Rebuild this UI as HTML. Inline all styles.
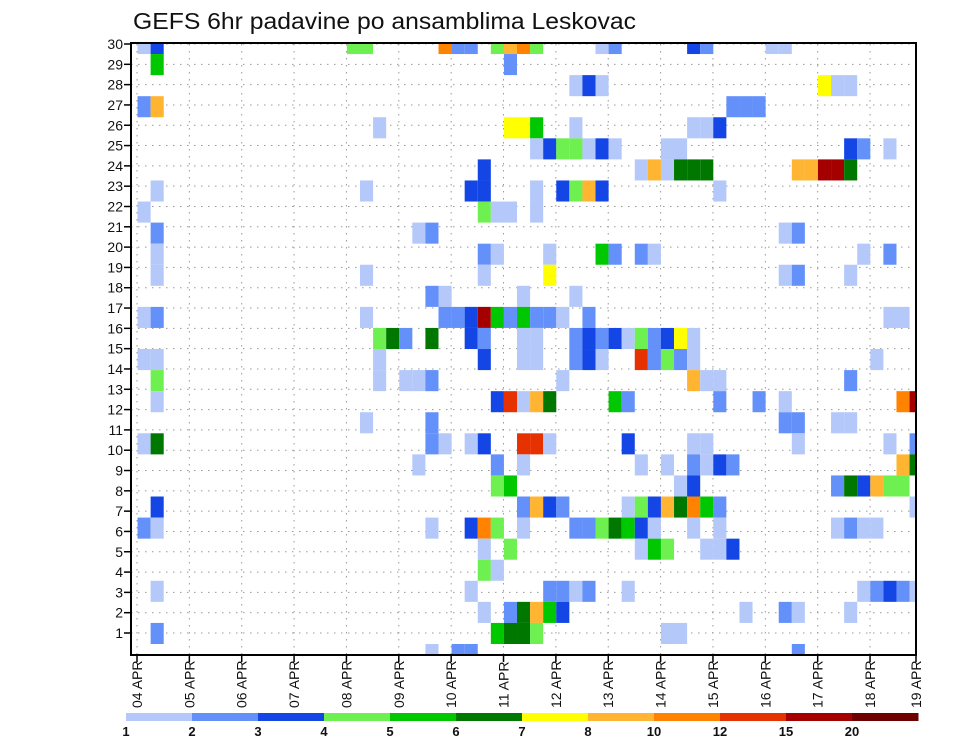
<!DOCTYPE html>
<html><head><meta charset="utf-8"><title>GEFS 6hr padavine po ansamblima Leskovac</title>
<style>
html,body{margin:0;padding:0;background:#fff;}
svg{display:block;font-family:"Liberation Sans",sans-serif;}
</style></head>
<body>
<svg id="chart" width="960" height="742" viewBox="0 0 960 742" xmlns="http://www.w3.org/2000/svg">
<defs><clipPath id="plotclip"><rect x="131" y="44" width="785" height="611"/></clipPath></defs>
<text x="133" y="29" font-size="23" textLength="503" lengthAdjust="spacingAndGlyphs" fill="#111">GEFS 6hr padavine po ansamblima Leskovac</text>
<g id="grid"></g>
<g id="cells" clip-path="url(#plotclip)"></g>
<rect x="131" y="43" width="785" height="612" fill="none" stroke="#000" stroke-width="2"/>
<g id="yaxis"></g>
<g id="xaxis"></g>
<g id="colorbar"></g>
</svg>
<script>
// ---- data ----
const levelColors = ["#b4c8fa","#6490fa","#1446e6","#6ef050","#00c800","#007800","#ffff00","#ffb432","#ff8200","#e63200","#a50000","#6e0000"];
const levelLabels = ["1","2","3","4","5","6","7","8","10","12","15","20"];
const memberLabels = [1,2,3,4,5,6,7,8,9,10,11,12,13,14,15,16,17,18,19,20,21,22,23,24,25,26,27,28,29,30];
const dayLabels = ["04 APR","05 APR","06 APR","07 APR","08 APR","09 APR","10 APR","11 APR","12 APR","13 APR","14 APR","15 APR","16 APR","17 APR","18 APR","19 APR"];
// cells: [row, 6h step, level index 1..12]
const cells = [
[29,1,1],[29,2,3],[29,17,4],[29,18,4],[29,24,9],[29,25,2],[29,26,2],[29,28,4],[29,29,8],[29,30,9],[29,31,4],[29,36,1],[29,37,2],[29,43,3],[29,44,2],[29,49,1],[29,50,1],
[28,2,5],[28,29,2],
[27,34,1],[27,35,3],[27,36,1],[27,53,7],[27,54,1],[27,55,1],
[26,1,2],[26,2,8],[26,46,2],[26,47,2],[26,48,2],
[25,19,1],[25,29,7],[25,30,7],[25,31,5],[25,34,1],[25,43,1],[25,44,1],[25,45,3],
[24,31,1],[24,32,3],[24,33,4],[24,34,4],[24,35,1],[24,36,3],[24,37,1],[24,41,1],[24,42,1],[24,55,3],[24,56,2],[24,58,1],
[23,27,3],[23,39,1],[23,40,8],[23,41,1],[23,42,6],[23,43,6],[23,44,6],[23,51,8],[23,52,8],[23,53,11],[23,54,11],[23,55,6],
[22,2,1],[22,18,1],[22,26,3],[22,27,3],[22,31,1],[22,33,3],[22,34,4],[22,35,8],[22,36,3],[22,45,1],
[21,1,1],[21,27,4],[21,28,1],[21,29,1],[21,31,1],
[20,2,2],[20,22,1],[20,23,2],[20,50,1],[20,51,2],
[19,2,1],[19,27,2],[19,28,1],[19,32,1],[19,36,5],[19,37,2],[19,39,2],[19,40,1],[19,56,1],[19,58,2],
[18,2,1],[18,18,1],[18,27,1],[18,32,7],[18,50,1],[18,51,2],[18,55,1],
[17,23,2],[17,24,1],[17,30,1],[17,34,1],
[16,1,1],[16,2,2],[16,18,1],[16,24,2],[16,25,2],[16,26,3],[16,27,11],[16,28,5],[16,29,2],[16,30,5],[16,31,2],[16,32,2],[16,33,1],[16,35,2],[16,58,1],[16,59,1],
[15,19,4],[15,20,6],[15,21,2],[15,23,6],[15,26,3],[15,27,2],[15,30,1],[15,31,1],[15,34,2],[15,35,3],[15,36,2],[15,37,3],[15,38,1],[15,39,4],[15,40,2],[15,41,3],[15,42,7],[15,43,1],
[14,1,1],[14,2,1],[14,19,1],[14,27,3],[14,30,1],[14,31,1],[14,34,2],[14,35,3],[14,36,1],[14,39,10],[14,40,2],[14,41,4],[14,42,2],[14,43,1],[14,57,1],
[13,2,4],[13,19,1],[13,21,1],[13,22,1],[13,23,2],[13,33,1],[13,43,8],[13,44,1],[13,45,1],[13,55,2],
[12,2,1],[12,28,3],[12,29,10],[12,30,1],[12,31,8],[12,32,6],[12,37,5],[12,38,2],[12,45,2],[12,48,2],[12,50,1],[12,59,9],[12,60,11],
[11,18,1],[11,23,2],[11,50,2],[11,51,2],[11,54,1],[11,55,1],
[10,1,1],[10,2,6],[10,23,2],[10,24,1],[10,26,1],[10,27,3],[10,30,10],[10,31,10],[10,32,1],[10,38,3],[10,43,1],[10,44,1],[10,51,1],[10,58,1],[10,60,2],
[9,22,1],[9,28,2],[9,30,1],[9,39,1],[9,41,1],[9,43,2],[9,44,1],[9,45,3],[9,46,2],[9,59,8],[9,60,6],
[8,28,4],[8,29,5],[8,42,1],[8,43,3],[8,54,2],[8,55,6],[8,56,3],[8,57,8],[8,58,4],[8,59,4],
[7,2,3],[7,30,2],[7,31,8],[7,32,3],[7,33,2],[7,38,1],[7,39,4],[7,40,3],[7,41,8],[7,42,6],[7,43,9],[7,44,5],[7,45,2],[7,60,1],
[6,1,2],[6,2,1],[6,23,1],[6,26,3],[6,27,9],[6,28,4],[6,30,1],[6,34,2],[6,35,2],[6,36,4],[6,37,6],[6,38,5],[6,39,3],[6,40,1],[6,43,1],[6,45,1],[6,54,1],[6,55,2],[6,56,1],[6,57,1],
[5,27,1],[5,29,4],[5,39,1],[5,40,5],[5,41,4],[5,44,1],[5,45,1],[5,46,3],
[4,27,4],[4,28,1],
[3,2,1],[3,26,1],[3,32,2],[3,33,2],[3,34,1],[3,35,2],[3,38,1],[3,56,1],[3,57,2],[3,58,3],[3,59,2],[3,60,1],
[2,27,1],[2,29,2],[2,30,6],[2,31,8],[2,32,5],[2,33,3],[2,47,1],[2,50,2],[2,51,1],[2,55,1],
[1,2,2],[1,28,5],[1,29,6],[1,30,6],[1,31,4],[1,41,1],[1,42,1],
[0,23,1],[0,25,2],[0,26,2],[0,51,2]
];
// ---- axis functions ----
const NS = "http://www.w3.org/2000/svg";
const stepW = 13.085;
function xStep(k){ return 131 + stepW*k - stepW/2; }
function yRowTop(r){ return 644 - 21.07*r - 21.07 + 21.07; }
function yRow(r){ return 644 - 21.07*r; }
function yMember(m){ return 633 - 20.31*(m-1); }
function xDay(d){ return Math.min(137 + 52.36*d, 916); }
function mk(tag, attrs, parent){ const e=document.createElementNS(NS,tag); for(const a in attrs) e.setAttribute(a,attrs[a]); parent.appendChild(e); return e; }

const cellsG = document.getElementById('cells');
cells.forEach(c=>{
  const r=c[0], k=c[1], lv=c[2];
  const el = mk('rect',{x:xStep(k).toFixed(2), y:(yRow(r)).toFixed(2), width:stepW.toFixed(2), height:'21.07', fill:levelColors[lv-1]}, cellsG);
  
  
});

const grid = document.getElementById('grid');
memberLabels.forEach(m=>{
  const el = mk('line',{x1:131,x2:916,y1:yMember(m),y2:yMember(m),stroke:'#999','stroke-width':1,'stroke-dasharray':'1.5,5.5'}, grid);
  
  
});
dayLabels.forEach((d,i)=>{
  const el = mk('line',{x1:xDay(i),x2:xDay(i),y1:44,y2:655,stroke:'#999','stroke-width':1,'stroke-dasharray':'1.5,5.5'}, grid);
  
  
});

const yax = document.getElementById('yaxis');
memberLabels.forEach(m=>{
  const y = yMember(m);
  const t = mk('line',{x1:124,x2:131,y1:y,y2:y,stroke:'#000','stroke-width':1.5}, yax);
  
  
  const tx = mk('text',{x:123,y:y+5,'text-anchor':'end','font-size':14,fill:'#111'}, yax);
  tx.textContent = m;
  
  
});

const xax = document.getElementById('xaxis');
dayLabels.forEach((d,i)=>{
  const x = xDay(i);
  const t = mk('line',{x1:x,x2:x,y1:655,y2:662,stroke:'#000','stroke-width':1.5}, xax);
  
  
  const tx = mk('text',{x:0,y:0,'font-size':14,fill:'#111',transform:`translate(${(x+5).toFixed(1)},708) rotate(-90)`}, xax);
  tx.textContent = d;
  
  
});

const cb = document.getElementById('colorbar');
const segW = 66;
levelColors.forEach((c,i)=>{
  const r = mk('rect',{x:126+segW*i,y:713,width:segW+0.5,height:8,fill:c}, cb);
  
  
});
levelLabels.forEach((l,i)=>{
  const t = mk('text',{x:126+segW*i,y:736,'text-anchor':'middle','font-size':13,'font-weight':'bold',fill:'#111'}, cb);
  t.textContent = l;
  
  
});
</script>
</body></html>
